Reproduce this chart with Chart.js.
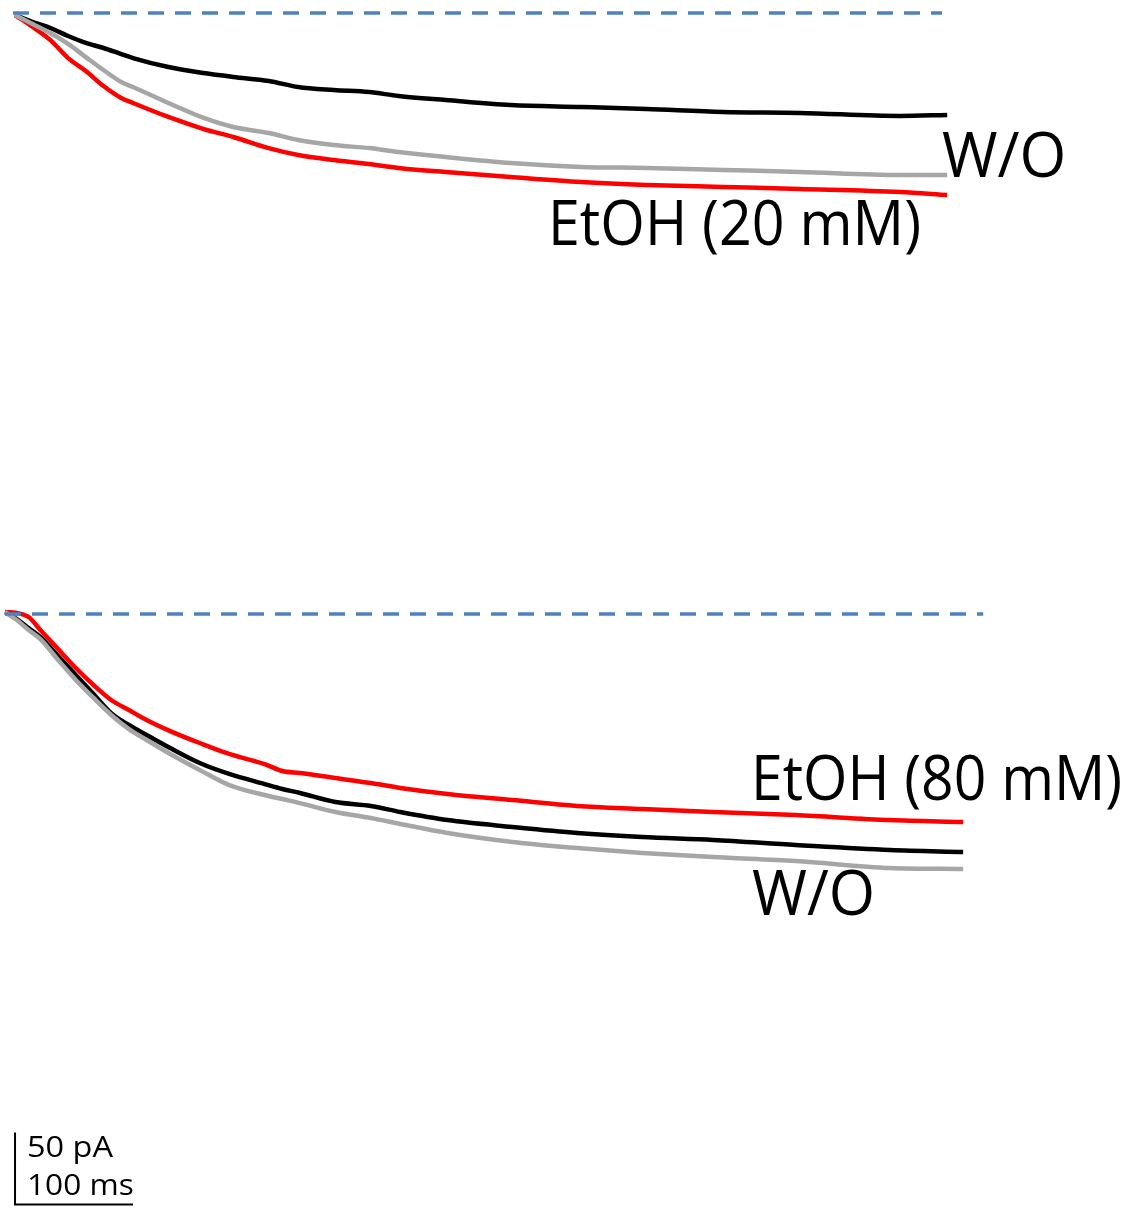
<!DOCTYPE html>
<html lang="en">
<head>
    <meta charset="UTF-8">
    <title>EtOH current traces</title>
    <script src="https://cdn.jsdelivr.net/npm/chart.js@4.4.0/dist/chart.umd.min.js"></script>
    <style>
        body {
            margin: 0;
            background: #ffffff;
            font-family: 'Open Sans', sans-serif;
        }
        .panel {
            position: absolute;
            left: 0;
        }
        #topPanel { top: 0; }
        #bottomPanel { top: 600px; }
    </style>
</head>
<body>

<div class="panel" id="topPanel"><canvas id="chartTop" width="1134" height="600"></canvas></div>
<div class="panel" id="bottomPanel"><canvas id="chartBottom" width="1134" height="608"></canvas></div>

<script>
    // Top panel: 20 mM EtOH (time in ms, current in pA)
    var timeTop = [0, 15, 30, 45, 60, 75, 90, 100, 130, 160, 185, 215, 240, 270, 300, 325, 365, 420, 480, 535, 600, 665, 750, 790];
    var controlTop = [-1.4, -6.3, -10.4, -16.0, -20.8, -24.3, -28.5, -31.3, -37.5, -41.7, -44.4, -47.2, -51.4, -53.5, -54.9, -57.6, -60.4, -63.9, -65.3, -66.7, -68.8, -69.4, -71.5, -70.8];
    var etohTop = [-1.4, -9.7, -18.8, -31.3, -40.3, -50.7, -59.0, -62.5, -72.2, -80.6, -86.1, -93.8, -98.6, -102.1, -104.9, -107.6, -110.4, -113.9, -117.4, -119.4, -120.8, -122.2, -124.3, -126.4];
    var washoutTop = [-1.4, -7.6, -13.9, -21.5, -30.6, -39.6, -47.9, -51.4, -62.5, -72.9, -79.2, -83.3, -88.2, -91.7, -93.8, -96.5, -100.0, -104.2, -106.9, -107.6, -109.0, -110.4, -112.5, -112.5];
    var baselineTopTime = [-1.7, 785.6];

    // Bottom panel: 80 mM EtOH
    var timeBottom = [0, 10, 20, 30, 45, 60, 75, 90, 105, 120, 140, 165, 190, 220, 235, 250, 280, 310, 335, 375, 430, 485, 540, 600, 670, 750, 812];
    var controlBottom = [1.4, -3.5, -9.7, -16.0, -29.2, -42.4, -55.6, -68.8, -77.1, -84.0, -93.1, -103.5, -111.1, -118.1, -121.5, -124.3, -130.6, -133.3, -137.5, -143.1, -147.9, -152.1, -154.9, -156.9, -160.4, -163.9, -165.3];
    var etohBottom = [1.4, 0.7, -2.1, -11.1, -24.3, -37.5, -49.3, -59.7, -66.7, -73.6, -81.3, -89.6, -97.2, -104.2, -109.0, -110.4, -113.9, -117.4, -120.8, -125.0, -129.2, -133.3, -135.4, -137.5, -139.6, -143.1, -144.4];
    var washoutBottom = [1.4, -4.2, -11.1, -17.4, -31.9, -45.8, -58.3, -70.1, -79.9, -87.5, -97.2, -108.3, -118.8, -125.7, -128.5, -131.3, -137.5, -141.7, -145.8, -152.1, -158.3, -162.5, -165.9, -168.8, -171.5, -176.4, -177.1];
    var baselineBottomTime = [0, 829];

    // Scale bar: 100 ms by 50 pA
    var scaleBarTime = [8.5, 8.5, 108.5];
    var scaleBarCurrent = [-360, -410, -410];

    // 1.18 px per ms, 1.44 px per pA in both panels
    var PX_PER_MS = 1.18;
    var PX_PER_PA = 1.44;

    function toPoints(xs, ys) {
        return xs.map(function(x, i) { return {x: x, y: ys[i]}; });
    }

    function trace(data, color) {
        return {
            data: data,
            borderColor: color,
            borderWidth: 4.5,
            pointRadius: 0,
            fill: false,
            cubicInterpolationMode: 'monotone'
        };
    }

    function baseline(times) {
        return {
            data: toPoints(times, [0, 0]),
            borderColor: '#4f81bd',
            borderWidth: 3.5,
            borderDash: [16, 11],
            pointRadius: 0,
            fill: false
        };
    }

    // draws the text labels of a panel
    var labelPlugin = {
        id: 'traceLabels',
        afterDraw: function(chart, args, opts) {
            var ctx = chart.ctx;
            (opts.items || []).forEach(function(item) {
                ctx.save();
                ctx.font = item.size + 'px "Open Sans", sans-serif';
                ctx.fillStyle = '#000000';
                ctx.textBaseline = 'alphabetic';
                ctx.translate(item.x, item.y);
                ctx.scale(item.sx || 1, 1);
                ctx.fillText(item.text, 0, 0);
                ctx.restore();
            });
        }
    };

    function makeChart(id, datasets, x0, y0, height, labels) {
        var xMin = -x0 / PX_PER_MS;
        var yMax = y0 / PX_PER_PA;
        return new Chart(document.getElementById(id), {
            type: 'line',
            data: { datasets: datasets },
            options: {
                responsive: false,
                animation: false,
                layout: { padding: 0 },
                scales: {
                    x: { type: 'linear', display: false, min: xMin, max: xMin + 1134 / PX_PER_MS },
                    y: { type: 'linear', display: false, min: yMax - height / PX_PER_PA, max: yMax }
                },
                plugins: {
                    legend: { display: false },
                    tooltip: { enabled: false },
                    traceLabels: { items: labels }
                }
            },
            plugins: [labelPlugin]
        });
    }

    makeChart('chartTop', [
        baseline(baselineTopTime),
        trace(toPoints(timeTop, washoutTop), '#a6a6a6'),
        trace(toPoints(timeTop, etohTop), '#ff0000'),
        trace(toPoints(timeTop, controlTop), '#000000')
    ], 15, 13, 600, [
        { text: 'W/O', x: 942, y: 177, size: 62, sx: 0.97 },
        { text: 'EtOH (20 mM)', x: 548, y: 245, size: 62, sx: 0.925 }
    ]);

    makeChart('chartBottom', [
        baseline(baselineBottomTime),
        trace(toPoints(timeBottom, washoutBottom), '#a6a6a6'),
        trace(toPoints(timeBottom, etohBottom), '#ff0000'),
        trace(toPoints(timeBottom, controlBottom), '#000000'),
        {
            data: toPoints(scaleBarTime, scaleBarCurrent),
            borderColor: '#000000',
            borderWidth: 2,
            pointRadius: 0,
            fill: false
        }
    ], 5, 14, 608, [
        { text: 'EtOH (80 mM)', x: 751, y: 200, size: 62, sx: 0.92 },
        { text: 'W/O', x: 752, y: 315, size: 62, sx: 0.96 },
        { text: '50 pA', x: 27, y: 557, size: 29, sx: 1.12 },
        { text: '100 ms', x: 27, y: 595, size: 29, sx: 1.09 }
    ]);
</script>
</body>
</html>
